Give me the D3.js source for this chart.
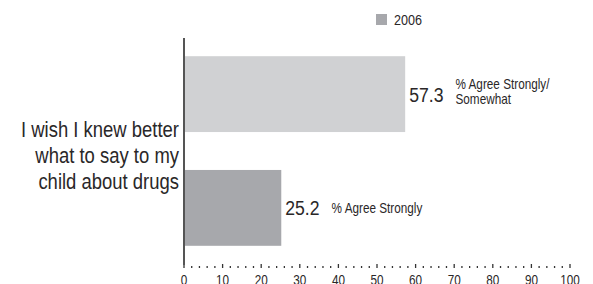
<!DOCTYPE html>
<html lang="en">
<head>
    <meta charset="UTF-8">
    <title>I wish I knew better what to say to my child about drugs</title>
    <script src="https://d3js.org/d3.v7.min.js"></script>
    <style>
        body {
            margin: 0;
            background: #ffffff;
        }

        svg text {
            font-family: 'Liberation Sans', Arial, sans-serif;
            fill: #2a2728;
        }
    </style>
</head>
<body>
    <svg id="chart" width="593" height="284"></svg>
    <script>
        // data
        const categories = ["Strongly/Somewhat", "Strongly"];
        const values2006 = [57.3, 25.2];
        const categoryLines = [["% Agree Strongly/", "Somewhat"], ["% Agree Strongly"]];
        const questionLines = ["I wish I knew better", "what to say to my", "child about drugs"];
        const seriesName = "2006";
        const majorTicks = [0, 10, 20, 30, 40, 50, 60, 70, 80, 90, 100];
        const minorTicks = d3.range(0, 101, 2);

        const barColors = ["#d0d1d3", "#a7a8ac"];
        const squeeze = 0.84; // the type in the picture is narrow

        const svg = d3.select("#chart");

        const x = d3.scaleLinear().domain([0, 100]).range([184, 570]);
        const y = d3.scaleBand()
            .domain(categories)
            .range([38, 264])
            .paddingInner(1 / 3)
            .paddingOuter(0.16);

        // helper: narrow text placed at (tx, ty)
        function narrowText(g, tx, ty, str, size, anchor) {
            return g.append("text")
                .attr("transform", `translate(${tx},${ty}) scale(${squeeze},1)`)
                .attr("text-anchor", anchor || "start")
                .style("font-size", size + "px")
                .text(str);
        }

        // bars
        svg.append("g")
            .selectAll("rect")
            .data(categories)
            .join("rect")
            .attr("x", x(0))
            .attr("y", d => y(d))
            .attr("width", (d, i) => x(values2006[i]) - x(0))
            .attr("height", y.bandwidth())
            .attr("fill", (d, i) => barColors[i]);

        // value and category labels
        const labels = svg.append("g");
        categories.forEach((c, i) => {
            const cy = y(c) + y.bandwidth() / 2;
            const vx = x(values2006[i]) + 4;
            const num = narrowText(labels, vx, cy + 7.5, values2006[i].toFixed(1), 21);
            const lx = vx + num.node().getComputedTextLength() * squeeze + 12;
            const lines = categoryLines[i];
            const first = lines.length > 1 ? cy - 5 : cy + 5;
            lines.forEach((line, j) => {
                narrowText(labels, lx, first + j * 15, line, 14);
            });
        });

        // question text on the left
        const q = svg.append("g");
        questionLines.forEach((line, j) => {
            narrowText(q, 179, 137 + j * 26, line, 22, "end");
        });

        // x axis: minor dots, major ticks, labels
        const axisY = 268;
        const axis = svg.append("g");
        axis.selectAll("line.minor")
            .data(minorTicks.filter(t => t % 10 !== 0))
            .join("line")
            .attr("class", "minor")
            .attr("x1", d => x(d)).attr("x2", d => x(d))
            .attr("y1", axisY - 2).attr("y2", axisY)
            .attr("stroke", "#333")
            .attr("stroke-width", 1.3);
        axis.selectAll("line.major")
            .data(majorTicks)
            .join("line")
            .attr("class", "major")
            .attr("x1", d => x(d)).attr("x2", d => x(d))
            .attr("y1", axisY - 4).attr("y2", axisY)
            .attr("stroke", "#333")
            .attr("stroke-width", 1.3);
        majorTicks.forEach(t => {
            narrowText(axis, x(t), 285, String(t), 14, "middle");
        });

        // vertical axis line
        svg.append("line")
            .attr("x1", x(0)).attr("x2", x(0))
            .attr("y1", 38).attr("y2", 265)
            .attr("stroke", "#555")
            .attr("stroke-width", 2);

        // legend
        const legend = svg.append("g");
        legend.append("rect")
            .attr("x", 376).attr("y", 14)
            .attr("width", 11).attr("height", 11)
            .attr("fill", barColors[1]);
        narrowText(legend, 394, 25, seriesName, 15);
    </script>
</body>
</html>
